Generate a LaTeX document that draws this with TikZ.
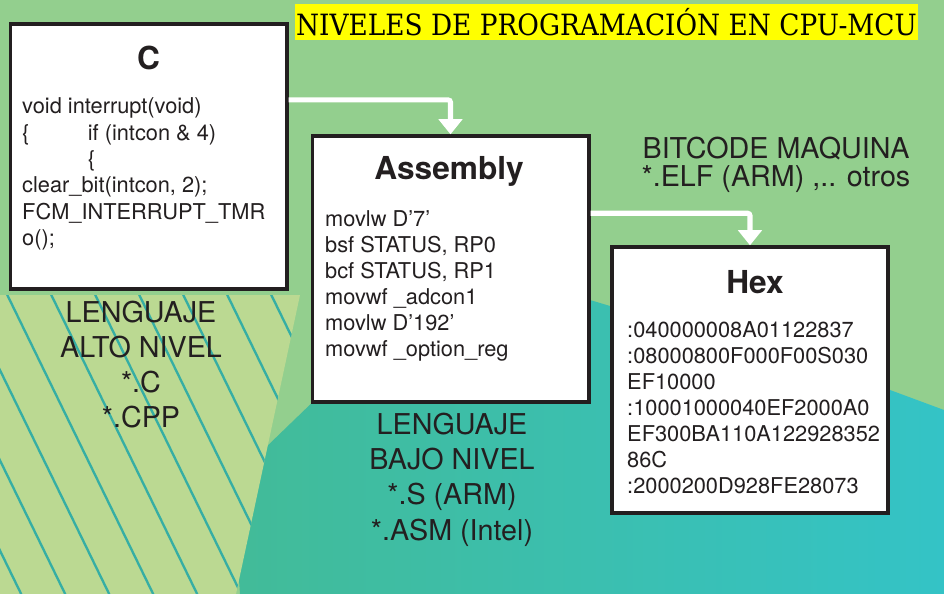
\documentclass[tikz,border=0pt]{standalone}
\usepackage{fontspec}
\setmainfont{TeX Gyre Heros}
\newfontfamily\titlefont[FakeStretch=0.9]{DejaVu Serif}
\usepackage{xcolor}
\definecolor{BackGreen}{HTML}{93CF8E}
\definecolor{PaleGreen}{HTML}{BBD992}
\definecolor{StripeTeal}{HTML}{36AEA4}
\definecolor{TealLeft}{HTML}{42BB98}
\definecolor{TealRight}{HTML}{34C3C6}
\definecolor{BoxLine}{HTML}{231F20}
\definecolor{TitleFill}{HTML}{FFFF00}
\usetikzlibrary{positioning,arrows.meta,calc}

\begin{document}
\begin{tikzpicture}[
    x=0.03cm, y=-0.03cm,
    codebox/.style={
        draw=BoxLine,
        line width=3.4pt,
        fill=white,
        minimum width=8.28cm,
        minimum height=7.96cm
    },
    head/.style={
        font=\fontsize{27}{30}\selectfont\bfseries,
        text=BoxLine,
        inner sep=0pt,
        anchor=base
    },
    code/.style={
        font=\fontsize{18.6}{22.1}\selectfont,
        text=BoxLine,
        align=left,
        inner sep=0pt,
        anchor=base west
    },
    lang/.style={
        font=\fontsize{24.5}{29.7}\selectfont,
        text=BoxLine,
        align=center,
        inner sep=0pt,
        anchor=base
    },
    flow/.style={
        draw=white,
        line width=4.3pt,
        rounded corners=2pt,
        -{Triangle[width=20pt,length=13pt]}
    },
    stripe/.style={draw=StripeTeal, line width=2pt}
]

% ---------------------------------------------------------
% Fondo
% ---------------------------------------------------------

\useasboundingbox (0,0) rectangle (944,594);
\fill[BackGreen] (0,0) rectangle (944,594);

\shade[left color=TealLeft, right color=TealRight]
(240,594) -- (232,480) -- (320,395) -- (590,300) -- (890,390)
-- (944,410) -- (944,594) -- cycle;

\begin{scope}
\clip (0,295) -- (300,295) -- (236,594) -- (0,594) -- cycle;
\fill[PaleGreen] (0,295) rectangle (300,594);
\foreach \i in {-9,...,7}
    \draw[stripe] (\i*44,280) -- ++(160,328);
\end{scope}

% ---------------------------------------------------------
% Titulo
% ---------------------------------------------------------

\node[fill=TitleFill, minimum width=18.69cm, minimum height=1.08cm,
      inner sep=0pt, font=\titlefont\fontsize{25}{26}\selectfont, text=black]
(title) at (606.5,22.5) {NIVELES DE PROGRAMACIÓN EN CPU-MCU};

% ---------------------------------------------------------
% Cajas de codigo
% ---------------------------------------------------------

\node[codebox] (cbox) at (148.5,156.5) {};
\node[codebox] (asmbox) at (450.5,269) {};
\node[codebox] (hexbox) at (750,380) {};

\node[head] (chead) at (148.5,70) {C};
\node[head] (asmhead) at (449,180) {Assembly};
\node[head] (hexhead) at (755,293) {Hex};

% el ancla base queda en la ultima linea
\node[code, font=\fontsize{18.6}{22.5}\selectfont] (ccode) at (22,245.5)
{void interrupt(void)\\
\makebox[56pt][l]{\{}if (intcon \& 4)\\
\hspace*{56pt}\{\\
clear\_bit(intcon, 2);\\
FCM\_INTERRUPT\_TMR\\
o();};

\node[code] (asmcode) at (325,356)
{movlw D'7'\\
bsf STATUS, RP0\\
bcf STATUS, RP1\\
movwf \_adcon1\\
movlw D'192'\\
movwf \_option\_reg};

\node[code] (hexcode) at (627,493)
{:040000008A01122837\\
:08000800F000F00S030\\
EF10000\\
:10001000040EF2000A0\\
EF300BA110A122928352\\
86C\\
:2000200D928FE28073};

% ---------------------------------------------------------
% Etiquetas de nivel
% ---------------------------------------------------------

\node[lang] (altonivel) at (141,427)
{LENGUAJE\\ ALTO NIVEL\\ *.C\\ *.CPP};

\node[lang, font=\fontsize{24.5}{30}\selectfont] (bajonivel) at (452,540)
{LENGUAJE\\ BAJO NIVEL\\ *.S (ARM)\\ *.ASM (Intel)};

\node[lang, font=\fontsize{24.5}{24.7}\selectfont] (bitcode) at (776,187)
{BITCODE MAQUINA\\ *.ELF (ARM) ,.. otros};

% ---------------------------------------------------------
% Flujos
% ---------------------------------------------------------

\draw[flow]
($(cbox.north east)!0.29!(cbox.south east)$) -|
(asmbox.north);

\draw[flow]
($(asmbox.north east)!0.293!(asmbox.south east)$) -|
(hexbox.north);

\end{tikzpicture}
\end{document}
